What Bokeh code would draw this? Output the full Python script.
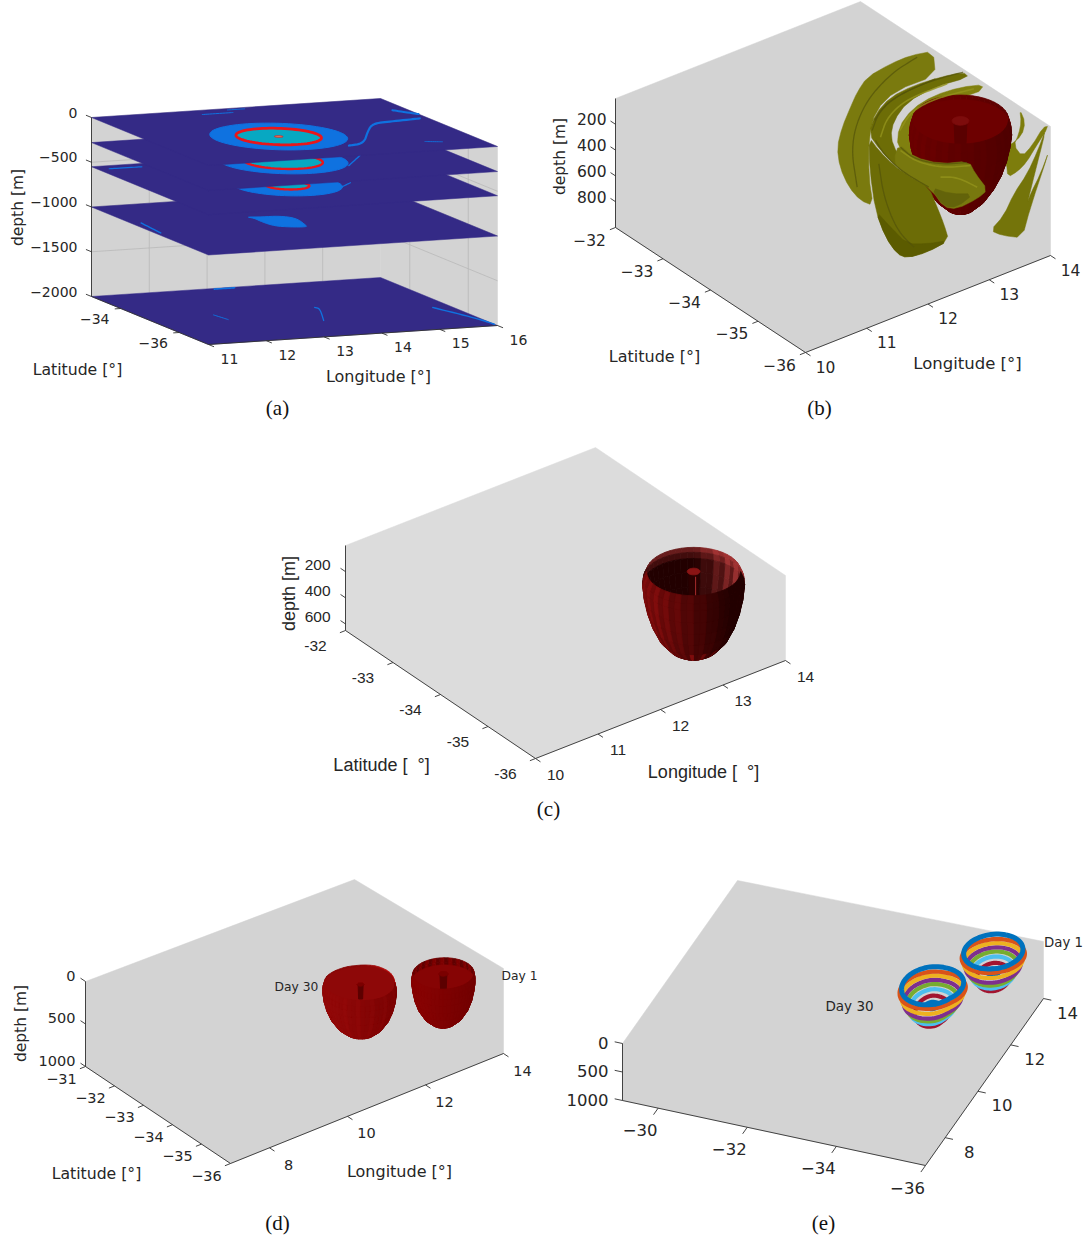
import numpy as np
from bokeh.plotting import figure
from bokeh.models import Range1d
from bokeh.core.properties import value
from bokeh.embed import file_html
from bokeh.resources import INLINE

# ---------- values ----------
a_layer_depths = [2000, 1000, 550, 280, 0]
a_eddy_lon = [13.15, 13.15, 13.25, 13.18, 13.1]
a_eddy_lat = [-35.25, -35.25, -35.25, -35.25, -35.25]
a_blue_radius = [0, 0, 0.85, 1.0, 1.065]
a_core_radius = [0, 0, 0.34, 0.61, 0.66]
a_lon_ticks = [11, 12, 13, 14, 15, 16]
a_lat_ticks = [-34, -36]
a_depth_ticks = [0, 500, 1000, 1500, 2000]
a_filament_lon = [13.82, 14.12, 14.65, 14.98, 15.30, 15.86]
a_filament_lat = [-36.23, -36.15, -35.24, -34.76, -34.70, -34.62]
a_tail_lon = [12.94, 13.18, 13.47, 13.65, 13.54, 13.49, 13.23, 13.04, 13.0, 13.02]
a_tail_lat = [-34.45, -34.52, -34.53, -34.76, -35.30, -35.45, -35.37, -35.23, -34.88, -34.56]
# thin filaments: depth, lon list, lat list, width
a_threads = [
    (0, [12.76, 13.29], [-33.31, -33.31], 1.0),
    (0, [13.3, 13.6], [-33.1, -33.1], 0.9),
    (0, [15.75, 16.0], [-33.9, -34.3], 2.0),
    (0, [15.1, 15.35], [-36.3, -36.4], 0.9),
    (280, [14.0, 14.53], [-35.87, -35.2], 1.4),
    (550, [13.95, 14.28], [-35.68, -35.37], 1.2),
    (550, [11.19, 11.75], [-33.23, -33.24], 1.2),
    (1000, [11.16, 11.09], [-34.38, -35.19], 1.4),
    (2000, [13.93, 13.97, 13.59], [-34.84, -34.94, -35.82], 1.3),
    (2000, [15.69, 15.95, 16.0], [-35.4, -36.4, -36.9], 1.4),
    (2000, [13.1, 13.45], [-33.05, -33.05], 1.6),
    (2000, [12.15, 12.2], [-34.9, -35.3], 1.0),
]

bc_lon_ticks = [10, 11, 12, 13, 14]
bc_lat_ticks = [-32, -33, -34, -35, -36]
b_depth_ticks = [200, 400, 600, 800]
c_depth_ticks = [200, 400, 600]
de_lon_ticks = [8, 10, 12, 14]
d_lat_ticks = [-31, -32, -33, -34, -35, -36]
e_lat_ticks = [-30, -32, -34, -36]
de_depth_ticks = [0, 500, 1000]

bowl_depths = [0, 60, 120, 200, 300, 400, 500, 600, 680, 720]
b_bowl_radii = [0.62, 0.65, 0.66, 0.64, 0.60, 0.54, 0.45, 0.33, 0.18, 0.05]
c_bowl_depths = [0, 50, 100, 200, 300, 400, 500, 580, 630, 645]
c_bowl_radii = [0.60, 0.64, 0.65, 0.63, 0.59, 0.53, 0.44, 0.31, 0.16, 0.03]
d_bowl_depths = [0, 60, 120, 200, 300, 400, 500, 570, 615, 630]
d1_bowl_radii = [0.63, 0.65, 0.65, 0.63, 0.59, 0.52, 0.40, 0.25, 0.09, 0.02]
d30_bowl_radii = [0.72, 0.75, 0.75, 0.73, 0.68, 0.60, 0.47, 0.31, 0.12, 0.03]
d30_rim_shape = [1.0, 1.02, 0.98, 1.0, 1.05, 1.03, 0.98, 0.97, 1.0, 1.04, 1.02, 0.96]

e_ring_depth = [0, 79, 158, 237, 298, 368, 447, 350]
e_ring_radius = [0.60, 0.64, 0.60, 0.56, 0.50, 0.44, 0.34, 0.13]
e_ring_flatten = [0.92, 0.84, 0.92, 1.0, 1.08, 1.15, 1.32, 0.8]
e_ring_color = ["#0072BD", "#D95319", "#EDB120", "#7E2F8E", "#77AC30", "#4DBEEE", "#A2142F", "#0072BD"]
e30_rim_shape = [1.0, 1.03, 1.0, 0.97, 0.98, 1.03, 1.05, 1.04, 0.96, 0.98, 1.0, 1.0]

# traced outlines of the yellow-green surfaces of panel (b) (crop units)
sheet_outer = [(398,62),(330,75),(270,100),(200,140),(170,185),(150,230),(125,290),(110,350),(118,410),(145,470),(180,510),(218,525),(205,440),(205,320),(225,240),(285,180),(405,135)]
sheet_arc1 = [(488,125),(420,140),(340,165),(270,200),(225,250),(205,310),(240,360),(290,410),(330,440),(385,470),(390,440),(330,410),(290,370),(270,320),(280,270),(320,215),(400,170),(505,140)]
sheet_arc2 = [(552,162),(480,170),(400,195),(335,235),(295,290),(290,350),(340,395),(380,400),(345,300),(400,215),(530,190)]
sheet_band = [(295,340),(340,380),(420,400),(505,392),(525,430),(562,478),(530,505),(470,535),(430,530),(395,480),(340,445),(300,420),(280,390)]
sheet_band_dark = [(390,470),(450,490),(520,490),(470,530),(430,528)]
sheet_front = [(205,320),(208,420),(225,540),(255,620),(290,670),(320,682),(380,665),(445,630),(430,580),(410,530),(385,470),(330,440),(280,405),(235,360)]
sheet_front_dark = [(225,540),(255,620),(290,670),(320,682),(380,665),(445,630),(380,640),(320,640),(270,590)]
sheet_right1 = [(658,237),(674,275),(664,315),(628,345),(590,352),(600,385),(618,398),(622,440),(652,422),(678,395),(705,350),(745,287),(728,290),(695,345),(665,378),(640,345),(655,310),(662,275)]
sheet_right2 = [(738,290),(712,360),(680,430),(640,490),(610,555),(570,600),(605,615),(665,622),(690,530),(748,355),(720,430),(690,490),(680,520),(705,420)]
sheet_shadows = [
    [(488,125),(400,148),(310,185),(250,225),(222,270)],
    [(300,350),(340,385),(420,402),(500,396)],
    [(225,330),(250,370),(300,420),(385,470)],
    [(215,300),(235,245),(290,195),(405,145)],
    [(235,400),(250,500),(290,600),(340,650)],
    [(350,80),(270,130),(190,220),(150,340),(170,470)],
]
sheet_lights = [
    [(298,300),(330,245),(400,205),(520,175)],
    [(240,320),(260,260),(320,205),(440,160)],
    [(300,360),(350,395),(430,412),(510,405)],
    [(420,440),(470,440),(530,470)],
]

# ---------- page ----------
p = figure(width=1086, height=1239, x_range=Range1d(0, 1086), y_range=Range1d(1239, 0),
           output_backend="svg", toolbar_location=None,
           x_axis_location=None, y_axis_location=None, min_border=0)
p.grid.visible = False
p.outline_line_color = None

SANS = "DejaVu Sans"
SERIF = "Liberation Serif"


def smooth(xs, ys, rounds=3, closed=True):
    xs, ys = np.asarray(xs, float), np.asarray(ys, float)
    for _ in range(rounds):
        if closed:
            x2, y2 = np.roll(xs, -1), np.roll(ys, -1)
            xs, ys = (np.column_stack([0.75 * xs + 0.25 * x2, 0.25 * xs + 0.75 * x2]).ravel(),
                      np.column_stack([0.75 * ys + 0.25 * y2, 0.25 * ys + 0.75 * y2]).ravel())
        else:
            a = np.column_stack([0.75 * xs[:-1] + 0.25 * xs[1:], 0.25 * xs[:-1] + 0.75 * xs[1:]]).ravel()
            b = np.column_stack([0.75 * ys[:-1] + 0.25 * ys[1:], 0.25 * ys[:-1] + 0.75 * ys[1:]]).ravel()
            xs, ys = np.r_[xs[0], a, xs[-1]], np.r_[ys[0], b, ys[-1]]
    return xs, ys


def label(x, y, s, size, font=SANS, align="center", angle=0.0, color="#262626"):
    p.text([x], [y], text=[s], text_font=value(font), text_font_size=value(f"{size}px"),
           text_align=align, text_baseline="middle", angle=angle, text_color=color)


class Panel:
    def __init__(self, front, left, right, left_top, lon, lat, dmax):
        self.f = np.array(front, float)
        self.lon0, self.lon1 = lon
        self.lat0, self.lat1 = lat
        self.dmax = dmax
        self.ex = (np.array(right, float) - self.f) / (self.lon1 - self.lon0)
        self.ey = (np.array(left, float) - self.f) / (self.lat1 - self.lat0)
        self.ez = (left[1] - left_top[1]) / dmax

    def xy(self, lon, lat, d):
        lon, lat, d = np.asarray(lon, float), np.asarray(lat, float), np.asarray(d, float)
        x = self.f[0] + (lon - self.lon0) * self.ex[0] + (lat - self.lat0) * self.ey[0]
        y = self.f[1] + (lon - self.lon0) * self.ex[1] + (lat - self.lat0) * self.ey[1] + (d - self.dmax) * self.ez
        return x, y

    def ring(self, lon, lat, r, d, aspect=1.0, shape=None, n=72):
        t = np.linspace(0, 2 * np.pi, n + 1)
        k = 1.0
        if shape is not None:
            k = np.interp(t, np.linspace(0, 2 * np.pi, len(shape) + 1), list(shape) + [shape[0]])
        return self.xy(lon + aspect * r * k * np.cos(t), lat + r * k * np.sin(t), np.full_like(t, d))

    def hexagon(self, color, back_top=None):
        P = self
        pts = [P.xy(P.lon0, P.lat1, 0), P.xy(P.lon1, P.lat1, 0), P.xy(P.lon1, P.lat0, 0),
               P.xy(P.lon1, P.lat0, P.dmax), P.xy(P.lon0, P.lat0, P.dmax), P.xy(P.lon0, P.lat1, P.dmax)]
        xs = [float(q[0]) for q in pts]
        ys = [float(q[1]) for q in pts]
        if back_top:
            xs[1], ys[1] = back_top
        p.patch(xs, ys, fill_color=color, line_color=color, line_width=0.5)

    def axes(self, lon_ticks, lat_ticks, depth_ticks, lon_off, lat_off, size, font=SANS, minus="\u2212", tick=6.0):
        P = self
        col = "#303030"
        xs, ys = P.xy([P.lon0, P.lon0, P.lon0, P.lon1], [P.lat1, P.lat1, P.lat0, P.lat0], [0, P.dmax, P.dmax, P.dmax])
        p.line(xs, ys, line_color=col, line_width=0.9)
        ux = P.ex / np.hypot(*P.ex)
        uy = P.ey / np.hypot(*P.ey)
        for v in lon_ticks:
            x, y = P.xy(v, P.lat0, P.dmax)
            p.line([float(x), float(x - uy[0] * tick)], [float(y), float(y - uy[1] * tick)], line_color=col, line_width=0.9)
            label(float(x) + lon_off[0], float(y) + lon_off[1], str(v), size, font)
        for v in lat_ticks:
            x, y = P.xy(P.lon0, v, P.dmax)
            p.line([float(x), float(x - ux[0] * tick)], [float(y), float(y - ux[1] * tick)], line_color=col, line_width=0.9)
            label(float(x) + lat_off[0], float(y) + lat_off[1], str(v).replace("-", minus), size, font)
        for v in depth_ticks:
            x, y = P.xy(P.lon0, P.lat1, v)
            p.line([float(x), float(x + uy[0] * tick)], [float(y), float(y + uy[1] * tick)], line_color=col, line_width=0.9)


def mix(c1, c2, f):
    f = float(np.clip(f, 0, 1))
    return "#%02x%02x%02x" % tuple(int(round(a + (b - a) * f)) for a, b in zip(c1, c2))


def bowl(P, lon, lat, depths, radii, far_col, near_col, floor=None, floor_color=None, shape=None, spike=None, inner=None):
    n = 48
    xs, ys = [], []
    for d, r in zip(depths, radii):
        x, y = P.ring(lon, lat, r, d, shape=shape, n=n)
        xs.append(x)
        ys.append(y)
    cx0, _ = P.xy(lon, lat, 0)
    rx = float(np.max(np.abs(xs[0] - cx0)))
    far, near = [], []
    for i in range(len(depths) - 1):
        _, cy_a = P.xy(lon, lat, depths[i])
        for j in range(n):
            qx = [xs[i][j], xs[i][j + 1], xs[i + 1][j + 1], xs[i + 1][j]]
            qy = [ys[i][j], ys[i][j + 1], ys[i + 1][j + 1], ys[i + 1][j]]
            s = (ys[i][j] + ys[i][j + 1]) / 2 - cy_a
            sx = (np.mean(qx) - cx0) / rx
            v = i / (len(depths) - 1)
            if s < 0:
                far.append((qx, qy, far_col(sx, v, j)))
            else:
                near.append((qx, qy, near_col(sx, v, j)))

    def draw(items):
        if items:
            cs = [q[2] for q in items]
            p.patches([list(map(float, q[0])) for q in items], [list(map(float, q[1])) for q in items],
                      fill_color=cs, line_color=cs, line_width=0.8)

    draw(far)
    if floor is not None:
        r = float(np.interp(floor, depths, radii))
        fx, fy = P.ring(lon, lat, r, floor, shape=shape)
        p.patch(fx, fy, fill_color=floor_color, line_color=floor_color, line_width=0.5)
    if spike is not None:
        d1, d2, w, c1, c2 = spike
        x1, y1 = P.xy(lon, lat, d1)
        x2, y2 = P.xy(lon, lat, d2)
        p.patch([float(x1) - w, float(x1) + w, float(x2) + w * 0.8, float(x2) - w * 0.8],
                [float(y1), float(y1), float(y2), float(y2)], fill_color=c1, line_color=c1)
        tx, ty = P.ring(lon, lat, w / np.hypot(*P.ex) * 1.1, d1)
        p.patch(tx, ty, fill_color=c2, line_color=c2)
    if inner is not None:
        d1, d2, off, c = inner
        xa, ya = P.xy(lon, lat, d1)
        xb, yb = P.xy(lon, lat, d2)
        p.line([float(xa) + off, float(xb) + off], [float(ya), float(yb)], line_color=c, line_width=1.0)
    draw(near[::-1])


# ---------- (a) ----------
A = Panel((208, 344), (91, 296), (497, 325), (91, 117), (11, 16), (-37, -33), 2000)
for lons, lats in [([11, 16, 16, 11], [-33, -33, -33, -33]), ([16, 16, 16, 16], [-33, -37, -37, -33])]:
    xs, ys = A.xy(lons, lats, [0, 0, 2000, 2000])
    p.patch(xs, ys, fill_color="#d3d3d3", line_color="#d3d3d3", line_width=0.5)
grid = "#b9b9b9"
for v in a_depth_ticks[1:-1]:
    xs, ys = A.xy([11, 16, 16], [-33, -33, -37], [v, v, v])
    p.line(xs, ys, line_color=grid, line_width=0.8)
for v in a_lon_ticks[1:-1]:
    xs, ys = A.xy([v, v], [-33, -33], [0, 2000])
    p.line(xs, ys, line_color=grid, line_width=0.8)
for v in a_lat_ticks:
    xs, ys = A.xy([16, 16], [v, v], [0, 2000])
    p.line(xs, ys, line_color=grid, line_width=0.8)
NAVY, BLUE, TEAL, RED = "#342a86", "#0f72e0", "#07a8c2", "#e9161b"
for k, d in enumerate(a_layer_depths):
    xs, ys = A.xy([11, 16, 16, 11], [-37, -37, -33, -33], [d] * 4)
    p.patch(xs, ys, fill_color=NAVY, line_color=NAVY, line_width=0.5)
    for dd, lo, la, w in a_threads:
        if dd == d:
            xs, ys = A.xy(lo, la, [d] * len(lo))
            xs, ys = smooth(xs, ys, closed=False)
            p.line(xs, ys, line_color=BLUE, line_width=w, line_cap="round")
    if a_blue_radius[k] > 0:
        xs, ys = A.ring(a_eddy_lon[k], a_eddy_lat[k], a_blue_radius[k], d)
        p.patch(xs, ys, fill_color=BLUE, line_color=BLUE)
        xs, ys = A.ring(a_eddy_lon[k], a_eddy_lat[k], a_core_radius[k], d)
        p.patch(xs, ys, fill_color=TEAL, line_color=RED, line_width=2.8 if d == 0 else 2.4)
    if d == 0:
        xs, ys = A.xy(a_filament_lon, a_filament_lat, [0] * 6)
        xs, ys = smooth(xs, ys, closed=False)
        p.line(xs, ys, line_color=BLUE, line_width=2.2, line_cap="round")
        xs, ys = A.ring(a_eddy_lon[k], a_eddy_lat[k], 0.065, d)
        p.patch(xs, ys, fill_color="#d8a070", line_color=RED, line_width=0.9)
    if d == 1000:
        xs, ys = A.xy(a_tail_lon, a_tail_lat, [d] * len(a_tail_lon))
        xs, ys = smooth(xs, ys, rounds=2)
        p.patch(xs, ys, fill_color=BLUE, line_color=BLUE)
A.axes(a_lon_ticks, a_lat_ticks, a_depth_ticks, (21, 14), (-26, 10), 14)
for v in a_depth_ticks:
    x, y = A.xy(11, -33, v)
    label(float(x) - 14, float(y) - 5, str(-v).replace("-", "\u2212"), 14, align="right")
label(17, 207, "depth [m]", 15.5, angle=np.pi / 2)
label(77, 369, "Latitude [\u00b0]", 15.7)
label(378, 376, "Longitude [\u00b0]", 16)
label(277, 407, "(a)", 21, font=SERIF, color="#111111")


# ---------- (b) ----------
def crop_b(pts, rounds=1, closed=True):
    return smooth([800 + q[0] / 3 for q in pts], [30 + q[1] / 3 for q in pts], rounds=rounds, closed=closed)


B = Panel((805, 352), (615, 227), (1050, 255), (615, 98), (10, 14), (-36, -32), 1000)
B.hexagon("#d3d3d3")
for pts, c in [(sheet_outer, "#7a7a0e"), (sheet_arc1, "#6d6d06"), (sheet_arc2, "#80800f"),
               (sheet_right1, "#7d7d0c"), (sheet_right2, "#74740a")]:
    xs, ys = crop_b(pts)
    p.patch(xs, ys, fill_color=c, line_color=c, line_width=0.5)

bowl(B, 13.19, -35.15, bowl_depths, b_bowl_radii,
     lambda sx, v, j: mix((92, 0, 0), (108, 0, 0), 0.5 - sx / 2),
     lambda sx, v, j: mix((70, 0, 0), (108, 0, 0), (0.65 - 0.4 * sx) * (0.88 if j % 2 else 1.0)),
     floor=40, floor_color="#6d0000", spike=(10, 240, 6.5, "#5a0000", "#7d0c0c"))

for pts, c in [(sheet_band, "#78780e"), (sheet_band_dark, "#63630a"), (sheet_front, "#6c6c06"), (sheet_front_dark, "#5b5b00")]:
    xs, ys = crop_b(pts)
    p.patch(xs, ys, fill_color=c, line_color=c, line_width=0.5)
for pts in sheet_shadows:
    xs, ys = crop_b(pts, rounds=3, closed=False)
    p.line(xs, ys, line_color="#52520a", line_width=1.3, line_alpha=0.7)
for pts in sheet_lights:
    xs, ys = crop_b(pts, rounds=3, closed=False)
    p.line(xs, ys, line_color="#92921c", line_width=1.6, line_alpha=0.8)
B.axes(bc_lon_ticks, bc_lat_ticks, b_depth_ticks, (20, 14), (-26, 12), 15.5)
for v in b_depth_ticks:
    x, y = B.xy(10, -32, v)
    label(float(x) - 9, float(y) - 5, str(v), 15.5, align="right")
label(559, 156, "depth [m]", 15.5, angle=np.pi / 2)
label(654, 356, "Latitude [\u00b0]", 16)
label(967, 363, "Longitude [\u00b0]", 16.5)
label(819, 407, "(b)", 21, font=SERIF, color="#111111")

# ---------- (c) ----------
C = Panel((535, 758), (345, 630), (785, 660), (345, 545), (10, 14), (-36, -32), 650)
C.hexagon("#dcdcdc")


def c_far(sx, v, j):
    lit = 0.6 * max(sx, 0) + (0.45 if j % 2 else 0) * max(sx, 0) + 0.55 * max(0, 0.2 - v) / 0.2
    return mix((34, 0, 0), (160, 50, 50), lit)


def c_near(sx, v, j):
    f = 0.85 - 0.62 * (sx + 0.6)
    if j % 2:
        f *= 0.78
    spark = 0.45 if (v > 0.6 and j % 3 == 0 and sx > -0.1) else 0.0
    return mix((34, 0, 0), (130, 12, 12), f + 0.2 * max(0, v - 0.6) + spark)


bowl(C, 13.13, -35.21, c_bowl_depths, c_bowl_radii, c_far, c_near,
     spike=(0, 230, 5, "#2a0000", "#8a1414"), inner=(40, 200, 2, "#a52a2a"))
C.axes(bc_lon_ticks, bc_lat_ticks, c_depth_ticks, (20, 16), (-30, 15), 15.5, font="Liberation Sans", minus="-")
for v in c_depth_ticks:
    x, y = C.xy(10, -32, v)
    label(float(x) - 15, float(y) - 7, str(v), 15.5, font="Liberation Sans", align="right")
label(288, 593, "depth [m]", 18, font="Liberation Sans", angle=np.pi / 2)
label(381, 764, "Latitude [\u00a0\u00a0\u00b0]", 18, font="Liberation Sans")
label(703, 771, "Longitude [\u00a0\u00a0\u00b0]", 18, font="Liberation Sans")
label(548, 808, "(c)", 21, font=SERIF, color="#111111")

# ---------- (d) ----------
D = Panel((230, 1163), (85, 1066), (503, 1053), (85, 981), (7, 14), (-36, -31), 1000)
D.hexagon("#d3d3d3", back_top=(354, 879))
bowl(D, 12.92, -35.38, d_bowl_depths, d1_bowl_radii,
     lambda sx, v, j: mix((85, 0, 0), (125, 0, 0), (1 if j % 2 else 0.3)),
     lambda sx, v, j: mix((105, 0, 0), (135, 2, 2), 0.7 - 0.4 * sx),
     floor=90, floor_color="#860404", spike=(5, 190, 3.5, "#5c0000", "#7a0000"))
bowl(D, 11.37, -34.61, d_bowl_depths, d30_bowl_radii,
     lambda sx, v, j: mix((135, 5, 5), (195, 18, 18), max(sx, 0) * 1.1),
     lambda sx, v, j: mix((110, 0, 0), (145, 8, 8), 0.7 - 0.4 * sx + (0.15 if j % 3 == 0 else 0)),
     floor=20, floor_color="#8e0808", shape=d30_rim_shape, spike=(20, 190, 2.5, "#5c0000", "#7a0000"))
D.axes(de_lon_ticks, d_lat_ticks, de_depth_ticks, (19, 17), (-24, 12), 14.5)
for v in de_depth_ticks:
    x, y = D.xy(7, -31, v)
    label(float(x) - 10, float(y) - 6, str(v), 14.5, align="right")
label(20, 1023, "depth [m]", 15.5, angle=np.pi / 2)
label(96, 1173, "Latitude [\u00b0]", 15.7)
label(399, 1171, "Longitude [\u00b0]", 16)
label(296, 986, "Day 30", 12.3)
label(519, 975, "Day 1", 12.3)
label(277, 1222, "(d)", 21, font=SERIF, color="#111111")

# ---------- (e) ----------
E = Panel((925, 1165), (622, 1100), (1043, 998), (622, 1043), (6.8, 14), (-36, -29.2), 1000)
E.hexagon("#d3d3d3", back_top=(737, 880))


def ringed_bowl(lon, lat, scale, shape):
    for i in range(len(e_ring_depth) - 1, -1, -1):
        x, y = E.ring(lon, lat, e_ring_radius[i] * scale, e_ring_depth[i], aspect=1.3, shape=shape)
        _, cy = E.xy(lon, lat, e_ring_depth[i])
        y = cy + e_ring_flatten[i] * (y - cy)
        p.line(x, y, line_color=e_ring_color[i], line_width=5.0 if i == 0 else 4.2)


ringed_bowl(13.22, -35.16, 1.0, None)
ringed_bowl(11.46, -34.44, 1.06, e30_rim_shape)
E.axes(de_lon_ticks, e_lat_ticks, de_depth_ticks, (24, 14), (-18, 22), 16.5, tick=8)
for v in de_depth_ticks:
    x, y = E.xy(6.8, -29.2, v)
    label(float(x) - 14, float(y) - 1, str(v), 16.5, align="right")
label(849, 1005, "Day 30", 13.5)
label(1063, 942, "Day 1", 13.3)
label(823, 1222, "(e)", 21, font=SERIF, color="#111111")

open("out.html", "w").write(file_html(p, INLINE))
